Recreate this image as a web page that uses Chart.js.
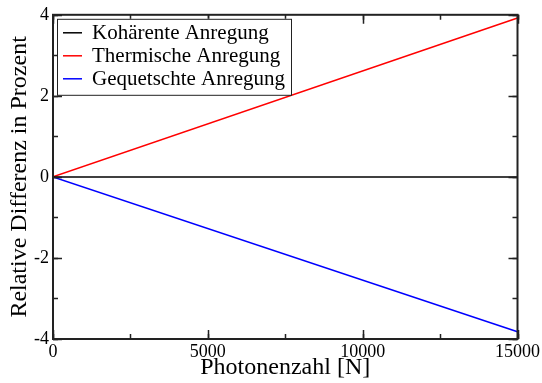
<!DOCTYPE html>
<html>
<head>
<meta charset="utf-8">
<script src="https://cdn.jsdelivr.net/npm/chart.js@4/dist/chart.umd.min.js"></script>
<style>
  html, body { margin: 0; padding: 0; background: #fff; }
  #wrap { width: 542px; height: 383px; }
</style>
</head>
<body>
<div id="wrap"><canvas id="c" width="542" height="383"></canvas></div>
<script>
// Photon numbers and relative differences (percent)
const photonCounts = [0, 15000];
const coherent = [0, 0];
const thermal = [0, 3.92];
const squeezed = [0, -3.82];
const seriesLabels = ['Kohärente Anregung', 'Thermische Anregung', 'Gequetschte Anregung'];
const seriesColors = ['#000000', '#ff0000', '#0000ff'];
const xTickStep = 5000, xMinorStep = 2500;
const yTickStep = 2, yMinorStep = 1;

const serif = "'Liberation Serif', 'DejaVu Serif', serif";

function pts(ys) { return photonCounts.map((x, i) => ({ x: x, y: ys[i] })); }

// Frame with inward major/minor ticks on all four sides
const framePlugin = {
  id: 'frame',
  afterDatasetsDraw(chart) {
    const { ctx, chartArea: a, scales: { x, y } } = chart;
    ctx.save();
    ctx.strokeStyle = '#222';
    ctx.lineWidth = 1.5;
    const drawTicks = (scale, step, len, vertical) => {
      for (let v = scale.min; v <= scale.max + 1e-9; v += step) {
        const p = Math.round(scale.getPixelForValue(v)) + 0.5;
        ctx.beginPath();
        if (vertical) {
          ctx.moveTo(p, a.bottom); ctx.lineTo(p, a.bottom - len);
          ctx.moveTo(p, a.top); ctx.lineTo(p, a.top + len);
        } else {
          ctx.moveTo(a.left, p); ctx.lineTo(a.left + len, p);
          ctx.moveTo(a.right, p); ctx.lineTo(a.right - len, p);
        }
        ctx.stroke();
      }
    };
    drawTicks(x, xMinorStep, 5, true);
    drawTicks(x, xTickStep, 9, true);
    drawTicks(y, yMinorStep, 5, false);
    drawTicks(y, yTickStep, 9, false);
    ctx.lineWidth = 2;
    ctx.strokeRect(a.left, a.top, a.right - a.left, a.bottom - a.top);
    ctx.restore();
  }
};

// Boxed legend in the upper-left corner of the plot
const legendBoxPlugin = {
  id: 'legendBox',
  afterDatasetsDraw(chart) {
    const { ctx, chartArea: a } = chart;
    const x0 = a.left + 4, y0 = a.top + 4;
    const w = 234, h = 76, rowH = 23;
    ctx.save();
    ctx.fillStyle = '#fff';
    ctx.fillRect(x0, y0, w, h);
    ctx.strokeStyle = '#222';
    ctx.lineWidth = 1;
    ctx.strokeRect(x0 + 0.5, y0 + 0.5, w, h);
    ctx.font = '21px ' + serif;
    ctx.textBaseline = 'middle';
    chart.data.datasets.forEach((ds, i) => {
      const cy = y0 + 14 + i * rowH;
      ctx.strokeStyle = ds.borderColor;
      ctx.lineWidth = 1.5;
      ctx.beginPath();
      ctx.moveTo(x0 + 6, cy); ctx.lineTo(x0 + 25, cy);
      ctx.stroke();
      ctx.fillStyle = '#000';
      ctx.fillText(ds.label, x0 + 35, cy + 1);
    });
    ctx.restore();
  }
};

new Chart(document.getElementById('c'), {
  type: 'scatter',
  data: {
    datasets: [coherent, thermal, squeezed].map((ys, i) => ({
      label: seriesLabels[i],
      data: pts(ys),
      showLine: true,
      borderColor: seriesColors[i],
      backgroundColor: seriesColors[i],
      borderWidth: 1.5,
      pointRadius: 0,
      tension: 0
    }))
  },
  options: {
    responsive: false,
    animation: false,
    layout: { padding: { top: 12, right: 22, left: 0, bottom: 0 } },
    plugins: { legend: { display: false }, tooltip: { enabled: false } },
    scales: {
      x: {
        type: 'linear', min: 0, max: 15000,
        grid: { display: false, drawTicks: false },
        border: { display: false },
        ticks: { stepSize: xTickStep, color: '#000', font: { family: serif, size: 18 }, padding: 2, maxRotation: 0,
          callback: v => String(v) },
        title: { display: true, text: 'Photonenzahl [N]', color: '#000', font: { family: serif, size: 24 }, padding: { top: 0, bottom: 1 } },
        afterFit(s) { s.height = 44; }
      },
      y: {
        type: 'linear', min: -4, max: 4,
        grid: { display: false, drawTicks: false },
        border: { display: false },
        ticks: { stepSize: yTickStep, color: '#000', font: { family: serif, size: 18 }, padding: 4,
          callback: v => String(v) },
        title: { display: true, text: 'Relative Differenz in Prozent', color: '#000', font: { family: serif, size: 24 }, padding: { top: 5, bottom: 0 } },
        afterFit(s) { s.width = 53; }
      }
    }
  },
  plugins: [framePlugin, legendBoxPlugin]
});
</script>
</body>
</html>
